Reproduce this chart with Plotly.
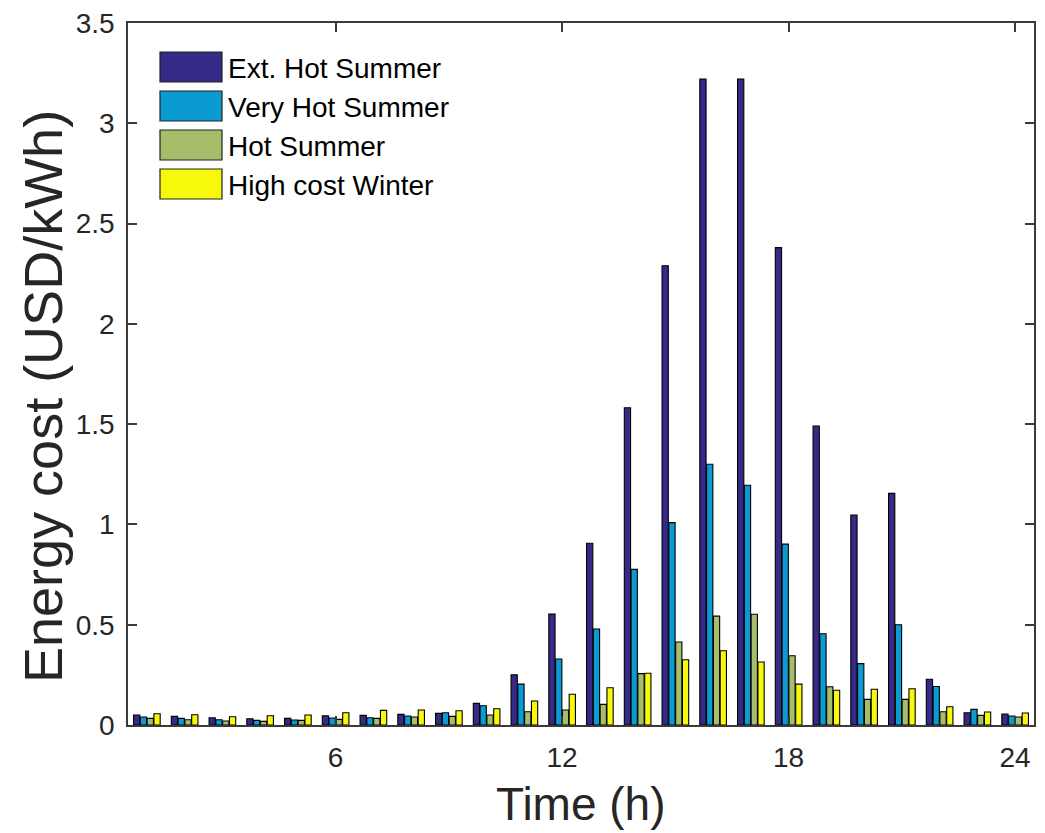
import plotly.graph_objects as go

# Hourly energy cost per tariff scenario (USD/kWh)
hours = list(range(1, 25))
ext_hot_summer = [0.050, 0.043, 0.036, 0.031, 0.033, 0.046, 0.048, 0.053, 0.058, 0.108, 0.250, 0.553,
                  0.906, 1.582, 2.290, 3.220, 3.220, 2.380, 1.490, 1.047, 1.155, 0.228, 0.061, 0.055]
very_hot_summer = [0.040, 0.033, 0.026, 0.023, 0.025, 0.035, 0.036, 0.045, 0.061, 0.096, 0.204, 0.329,
                   0.479, 0.776, 1.009, 1.300, 1.195, 0.902, 0.455, 0.306, 0.500, 0.192, 0.078, 0.045]
hot_summer = [0.033, 0.026, 0.020, 0.018, 0.023, 0.028, 0.033, 0.040, 0.043, 0.050, 0.066, 0.075,
              0.103, 0.256, 0.414, 0.543, 0.552, 0.345, 0.191, 0.128, 0.128, 0.066, 0.048, 0.040]
high_cost_winter = [0.056, 0.051, 0.041, 0.046, 0.050, 0.061, 0.073, 0.075, 0.071, 0.081, 0.120, 0.153,
                    0.186, 0.258, 0.325, 0.370, 0.314, 0.204, 0.173, 0.178, 0.181, 0.091, 0.065, 0.060]

series_names = ["Ext. Hot Summer", "Very Hot Summer", "Hot Summer", "High cost Winter"]
series_values = [ext_hot_summer, very_hot_summer, hot_summer, high_cost_winter]
series_colors = ["#352A87", "#0A9BD3", "#A6BD6A", "#F8F80C"]

x_ticks = [6, 12, 18, 24]
y_ticks = [0, 0.5, 1, 1.5, 2, 2.5, 3, 3.5]
y_tick_labels = ["0", "0.5", "1", "1.5", "2", "2.5", "3", "3.5"]

W, H = 1045, 833
L, R, T, B = 128, 11, 23, 108
PW, PH = W - L - R, H - T - B
FONT = "Liberation Sans, Arial, sans-serif"
AXIS_COLOR = "#3a3a3a"

fig = go.Figure()
for name, vals, col in zip(series_names, series_values, series_colors):
    fig.add_trace(go.Bar(
        x=hours, y=vals, name=name,
        marker=dict(color=col, line=dict(color="black", width=1.1)),
        showlegend=False,
    ))


def px_to_paper(px, py):
    return (px - L) / PW, 1 - (py - T) / PH


# Legend: large swatches with labels in the upper-left corner
for i, (name, col) in enumerate(zip(series_names, series_colors)):
    cy = 67 + i * 39
    x0, y0 = px_to_paper(160, cy - 15)
    x1, y1 = px_to_paper(222, cy + 15)
    fig.add_shape(type="rect", xref="paper", yref="paper", x0=x0, x1=x1, y0=y1, y1=y0,
                  fillcolor=col, line=dict(color="#222222", width=1.2))
    tx, ty = px_to_paper(226, cy + 1)
    fig.add_annotation(xref="paper", yref="paper", x=tx, y=ty, text=name, showarrow=False,
                       xanchor="left", yanchor="middle",
                       font=dict(family=FONT, size=28, color="black"))

# Axis titles
tx, ty = px_to_paper(43, 397)
fig.add_annotation(xref="paper", yref="paper", x=tx, y=ty, text="Energy cost (USD/kWh)",
                   textangle=-90, showarrow=False, xanchor="center", yanchor="middle",
                   font=dict(family=FONT, size=54, color="#262626"))
tx, ty = px_to_paper(581, 804)
fig.add_annotation(xref="paper", yref="paper", x=tx, y=ty, text="Time (h)",
                   showarrow=False, xanchor="center", yanchor="middle",
                   font=dict(family=FONT, size=46, color="#262626"))

fig.update_layout(
    width=W, height=H,
    margin=dict(l=L, r=R, t=T, b=B, autoexpand=False),
    paper_bgcolor="white", plot_bgcolor="white",
    barmode="group", bargap=0.28, bargroupgap=0.08,
    font=dict(family=FONT, color="#262626"),
)
fig.update_xaxes(
    range=[0.5, 24.5], tickmode="array", tickvals=x_ticks, ticktext=[str(v) for v in x_ticks],
    showgrid=False, zeroline=False, showline=True, linecolor=AXIS_COLOR, linewidth=1.6,
    mirror="ticks", ticks="inside", ticklen=9, tickwidth=1.6, tickcolor=AXIS_COLOR,
    tickfont=dict(family=FONT, size=28, color="#262626"), ticklabelstandoff=7,
)
fig.update_yaxes(
    range=[0, 3.5], tickmode="array", tickvals=y_ticks, ticktext=y_tick_labels,
    showgrid=False, zeroline=False, showline=True, linecolor=AXIS_COLOR, linewidth=1.6,
    mirror="ticks", ticks="inside", ticklen=9, tickwidth=1.6, tickcolor=AXIS_COLOR,
    tickfont=dict(family=FONT, size=28, color="#262626"), ticklabelstandoff=6,
)

fig.write_html("out.html")
